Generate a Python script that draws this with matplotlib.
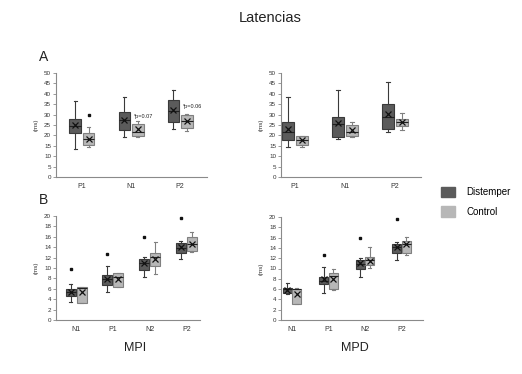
import matplotlib
matplotlib.use("Agg")
import matplotlib.pyplot as plt
import matplotlib.patches as mpatches

plt.rcParams['font.family'] = ['Liberation Sans', 'DejaVu Sans']

W, H = 522, 374

DARK = '#5b5b5b'
LIGHT = '#b7b7b7'
EDGE_D = '#3a3a3a'
EDGE_L = '#808080'

# --- data -------------------------------------------------------------------
# each group: [whislo, q1, med, q3, whishi, mean]
cats_a = ['P1', 'N1', 'P2']
mpi_a_dist = [[13.7, 21.0, 24.5, 28.0, 36.5, 25.0],
              [19.0, 22.6, 27.4, 31.1, 38.4, 27.6],
              [23.0, 26.6, 31.5, 36.8, 42.0, 32.0]]
mpi_a_ctrl = [[14.2, 15.6, 18.2, 21.0, 24.0, 18.3],
              [19.4, 19.8, 21.8, 25.5, 27.0, 22.9],
              [22.3, 23.4, 26.8, 29.7, 30.3, 26.8]]
mpi_a_ctrl_out = [[29.7], [], []]
mpd_a_dist = [[14.5, 17.7, 21.6, 26.6, 38.4, 22.9],
              [18.5, 19.4, 25.3, 29.0, 42.0, 26.1],
              [21.8, 22.9, 29.0, 35.2, 45.8, 30.3]]
mpd_a_ctrl = [[14.5, 15.2, 17.7, 19.7, 19.8, 17.7],
              [19.4, 19.8, 21.8, 25.2, 26.6, 22.7],
              [22.6, 24.5, 26.3, 27.7, 30.6, 26.5]]

cats_b = ['N1', 'P1', 'N2', 'P2']
mpi_b_dist = [[3.5, 4.6, 5.4, 5.9, 6.9, 5.4],
              [5.3, 6.7, 7.8, 8.7, 10.3, 7.9],
              [8.3, 9.7, 10.9, 11.7, 12.1, 10.9],
              [11.7, 12.9, 13.9, 14.9, 15.1, 14.1]]
mpi_b_dist_out = [[9.9], [12.6], [15.9], [19.7]]
mpi_b_ctrl = [[3.2, 3.2, 6.2, 6.3, 6.3, 5.3],
              [6.3, 6.4, 8.3, 9.1, 9.1, 7.9],
              [8.8, 10.4, 12.1, 12.9, 15.0, 11.7],
              [13.1, 13.3, 14.7, 15.9, 17.0, 14.7]]
mpd_b_dist = [[5.0, 5.3, 6.0, 6.3, 7.2, 5.9],
              [5.3, 6.9, 7.6, 8.3, 10.3, 7.9],
              [8.3, 9.9, 10.9, 11.7, 12.1, 11.0],
              [11.7, 13.0, 14.1, 14.7, 15.1, 14.1]]
mpd_b_dist_out = [[], [12.7], [15.9], [19.7]]
mpd_b_ctrl = [[3.1, 3.1, 6.0, 6.1, 6.2, 5.0],
              [5.8, 6.0, 8.5, 9.1, 9.9, 7.9],
              [10.1, 10.7, 11.7, 12.3, 14.1, 11.5],
              [12.7, 13.0, 14.7, 15.3, 16.2, 14.7]]

notes_mpi_a = [('*p=0.07', 1, 29.3), ('*p=0.06', 2, 33.9)]


def stats(groups, outliers=None):
    res = []
    for i, g in enumerate(groups):
        res.append(dict(whislo=g[0], q1=g[1], med=g[2], q3=g[3], whishi=g[4],
                        mean=g[5], fliers=(outliers[i] if outliers else [])))
    return res


def px_axes(fig, x0, y0, x1, y1):
    return fig.add_axes([x0 / W, 1 - y1 / H, (x1 - x0) / W, (y1 - y0) / H])


def draw(ax, cats, dist, ctrl, xlim, ymax, ystep, width, off,
         dist_out=None, ctrl_out=None):
    n = len(cats)
    for data, outs, pos_off, fc, ec in [(dist, dist_out, -off, DARK, EDGE_D),
                                        (ctrl, ctrl_out, off, LIGHT, EDGE_L)]:
        pos = [i + pos_off for i in range(n)]
        ax.bxp(stats(data, outs), positions=pos, widths=width,
               patch_artist=True, showmeans=True, capwidths=width * 0.3,
               boxprops=dict(facecolor=fc, edgecolor=ec, linewidth=0.8),
               medianprops=dict(color='#202020', linewidth=0.8),
               whiskerprops=dict(color=ec, linewidth=0.8),
               capprops=dict(color=ec, linewidth=0.8),
               meanprops=dict(marker='x', markeredgecolor='#111111',
                              markersize=4.5, markeredgewidth=0.9),
               flierprops=dict(marker='s', markerfacecolor='#111111',
                               markeredgecolor='#111111', markersize=1.6))
    ax.set_xlim(*xlim)
    ax.set_ylim(0, ymax)
    ax.set_yticks(range(0, ymax + 1, ystep))
    ax.set_xticks(range(n))
    ax.set_xticklabels(cats)
    for s in ['top', 'right']:
        ax.spines[s].set_visible(False)
    for s in ['left', 'bottom']:
        ax.spines[s].set_color('#8a8a8a')
        ax.spines[s].set_linewidth(0.8)
    ax.tick_params(axis='y', labelsize=4.5, length=2, width=0.6,
                   color='#8a8a8a', pad=1.5, labelcolor='#333333')
    ax.tick_params(axis='x', labelsize=5, length=0, pad=4,
                   labelcolor='#333333')
    ax.set_ylabel('(ms)', fontsize=4.5, color='#333333', labelpad=4)


fig = plt.figure(figsize=(W / 100, H / 100), dpi=100)

ax1 = px_axes(fig, 56, 73, 207, 177)
draw(ax1, cats_a, mpi_a_dist, mpi_a_ctrl, (-0.53, 2.55), 50, 5, 0.24, 0.135,
     ctrl_out=mpi_a_ctrl_out)
for txt, i, y in notes_mpi_a:
    ax1.text(i + 0.06, y, txt, fontsize=4, color='#222222', va='center')

ax2 = px_axes(fig, 281, 73, 421, 177)
draw(ax2, cats_a, mpd_a_dist, mpd_a_ctrl, (-0.28, 2.52), 50, 5, 0.24, 0.135)

ax3 = px_axes(fig, 56, 216, 200, 320)
draw(ax3, cats_b, mpi_b_dist, mpi_b_ctrl, (-0.55, 3.37), 20, 2, 0.27, 0.15,
     dist_out=mpi_b_dist_out)

ax4 = px_axes(fig, 281, 217, 423, 320)
draw(ax4, cats_b, mpd_b_dist, mpd_b_ctrl, (-0.3, 3.59), 20, 2, 0.25, 0.13,
     dist_out=mpd_b_dist_out)

fig.text(270 / W, 1 - 18 / H, 'Latencias', fontsize=10.5, ha='center',
         va='center', color='#222222')
fig.text(44 / W, 1 - 57 / H, 'A', fontsize=10, ha='center', va='center',
         color='#222222')
fig.text(44 / W, 1 - 200 / H, 'B', fontsize=10, ha='center', va='center',
         color='#222222')
fig.text(135 / W, 1 - 348 / H, 'MPI', fontsize=9, ha='center', va='center',
         color='#222222')
fig.text(355 / W, 1 - 348 / H, 'MPD', fontsize=9, ha='center', va='center',
         color='#222222')

handles = [mpatches.Patch(facecolor=DARK, edgecolor=DARK, label='Distemper'),
           mpatches.Patch(facecolor=LIGHT, edgecolor=LIGHT, label='Control')]
fig.legend(handles=handles, loc='upper left',
           bbox_to_anchor=(432 / W, 1 - 178 / H), frameon=False,
           fontsize=7, handlelength=1.5, handleheight=1.3,
           labelspacing=0.9, handletextpad=1.1)

fig.savefig('out.png', dpi=100)
